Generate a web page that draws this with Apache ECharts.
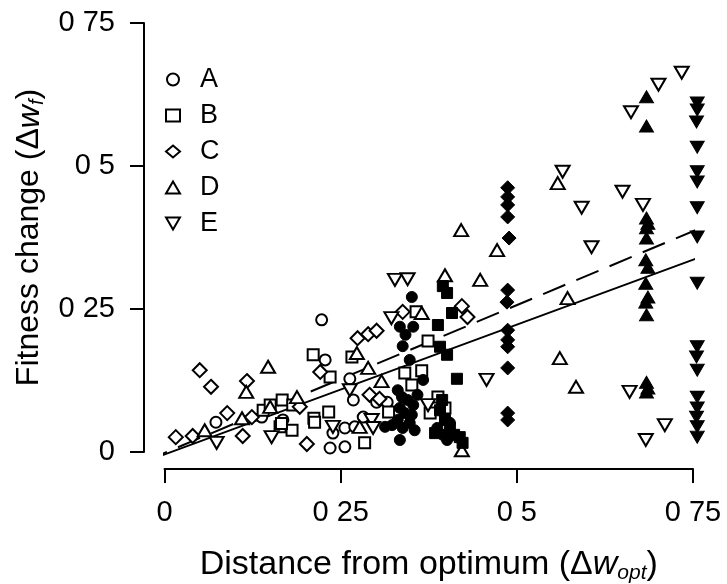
<!DOCTYPE html>
<html>
<head>
<meta charset="utf-8">
<script src="https://cdn.jsdelivr.net/npm/echarts@6/dist/echarts.min.js"></script>
<style>
html,body{margin:0;padding:0;background:#fff;}
#chart{width:727px;height:584px;}
</style>
</head>
<body>
<div id="chart"></div>
<script>
// ---- data (x = distance from optimum, y = fitness change) ----
const legendNames = ['A', 'B', 'C', 'D', 'E'];
const tickValues = [0, 0.25, 0.5, 0.75];

const openA = [[0.223,0.231],[0.228,0.161],[0.263,0.128],[0.268,0.091],[0.301,0.087],[0.316,0.087],[0.282,0.061],[0.239,0.033],[0.256,0.042],[0.270,0.044],[0.235,0.007],[0.256,0.009],[0.073,0.052],[0.138,0.061],[0.168,0.056]];
const openB = [[0.211,0.170],[0.235,0.131],[0.266,0.166],[0.167,0.091],[0.182,0.082],[0.164,0.044],[0.181,0.038],[0.212,0.059],[0.233,0.070],[0.213,0.052],[0.284,0.016],[0.357,0.245],[0.374,0.194],[0.341,0.138],[0.365,0.142],[0.351,0.117],[0.318,0.070],[0.388,0.096],[0.398,0.077],[0.377,0.068],[0.140,0.073],[0.150,0.082],[0.166,0.050]];
const openC = [[0.016,0.026],[0.040,0.028],[0.050,0.143],[0.066,0.114],[0.089,0.068],[0.111,0.028],[0.117,0.124],[0.192,0.079],[0.202,0.014],[0.221,0.140],[0.274,0.199],[0.289,0.206],[0.301,0.212],[0.291,0.100],[0.338,0.245],[0.422,0.255],[0.430,0.236],[0.124,0.061],[0.305,0.093]];
const openD = [[0.147,0.149],[0.116,0.105],[0.110,0.059],[0.150,0.079],[0.273,0.173],[0.289,0.147],[0.308,0.124],[0.365,0.243],[0.398,0.309],[0.448,0.301],[0.472,0.353],[0.421,0.388],[0.277,0.044],[0.422,0.003],[0.188,0.096],[0.057,0.038],[0.558,0.470],[0.572,0.269],[0.561,0.164],[0.584,0.114]];
const openE = [[0.327,0.301],[0.345,0.302],[0.322,0.234],[0.263,0.108],[0.294,0.056],[0.296,0.042],[0.239,0.044],[0.374,0.082],[0.152,0.026],[0.074,0.016],[0.457,0.126],[0.734,0.663],[0.701,0.642],[0.662,0.594],[0.565,0.490],[0.650,0.455],[0.592,0.427],[0.679,0.432],[0.606,0.358],[0.660,0.105],[0.710,0.047],[0.683,0.021]];

const filledA = [[0.351,0.271],[0.334,0.219],[0.353,0.219],[0.342,0.205],[0.338,0.185],[0.348,0.161],[0.367,0.126],[0.331,0.108],[0.337,0.096],[0.345,0.091],[0.353,0.082],[0.334,0.077],[0.341,0.068],[0.351,0.065],[0.331,0.056],[0.348,0.051],[0.338,0.042],[0.355,0.038],[0.313,0.044],[0.334,0.021],[0.387,0.042],[0.395,0.030],[0.401,0.021],[0.405,0.051],[0.359,0.100],[0.323,0.047]];
const filledB = [[0.395,0.290],[0.401,0.278],[0.408,0.243],[0.388,0.222],[0.391,0.184],[0.401,0.170],[0.415,0.128],[0.391,0.073],[0.398,0.056],[0.405,0.042],[0.411,0.030],[0.419,0.026],[0.423,0.016],[0.384,0.033],[0.394,0.091]];
const filledC = [[0.487,0.462],[0.487,0.446],[0.487,0.432],[0.487,0.411],[0.489,0.374],[0.487,0.283],[0.486,0.262],[0.487,0.213],[0.487,0.196],[0.487,0.184],[0.487,0.147],[0.487,0.068],[0.487,0.056]];
const filledD = [[0.684,0.621],[0.684,0.570],[0.684,0.409],[0.686,0.400],[0.684,0.392],[0.684,0.374],[0.683,0.336],[0.686,0.323],[0.683,0.295],[0.686,0.271],[0.683,0.262],[0.684,0.240],[0.684,0.122],[0.686,0.112],[0.684,0.105]];
const filledE = [[0.756,0.610],[0.756,0.598],[0.755,0.577],[0.756,0.533],[0.756,0.490],[0.756,0.472],[0.756,0.427],[0.756,0.376],[0.756,0.295],[0.756,0.184],[0.755,0.166],[0.756,0.143],[0.756,0.096],[0.756,0.077],[0.755,0.061],[0.756,0.044],[0.756,0.026]];

const solidFit = [[-0.029,-0.0175],[0.783,0.351]];
const dashedFit = [[-0.028,-0.016],[0.781,0.402]];

// ---- chart ----
const FONT = '"Liberation Sans", Arial, sans-serif';
const invTri = 'path://M0,0L20,0L10,17.3Z';
const shapes = ['circle', 'rect', 'diamond', 'triangle', invTri];
const sizes = [11, 11, 14, [14, 12], [14, 12]];
const openSets = [openA, openB, openC, openD, openE];
const filledSets = [filledA, filledB, filledC, filledD, filledE];

const series = [];
legendNames.forEach((n, i) => {
  series.push({
    name: n, type: 'scatter', data: openSets[i], symbol: shapes[i], symbolSize: sizes[i],
    clip: false,
    itemStyle: { color: '#fff', borderColor: '#000', borderWidth: 2, opacity: 1 },
    emphasis: { disabled: true }
  });
});
legendNames.forEach((n, i) => {
  series.push({
    name: n + ' filled', type: 'scatter', data: filledSets[i], symbol: shapes[i], symbolSize: sizes[i],
    clip: false,
    itemStyle: { color: '#000', borderColor: '#000', borderWidth: 1, opacity: 1 },
    emphasis: { disabled: true }
  });
});
series.push({
  type: 'line', data: solidFit, showSymbol: false, symbol: 'none', clip: false,
  lineStyle: { color: '#000', width: 2 }, z: 1
});
series.push({
  type: 'line', data: dashedFit, showSymbol: false, symbol: 'none', clip: false,
  lineStyle: { color: '#000', width: 2, type: [24, 12] }, z: 1
});

const tickFmt = v => String(v).replace('.', ' ');

const chart = echarts.init(document.getElementById('chart'), null, { renderer: 'canvas' });
chart.setOption({
  animation: false,
  backgroundColor: '#fff',
  textStyle: { fontFamily: FONT },
  grid: { left: 164.5, right: 34, top: 23, bottom: 132, containLabel: false, outerBoundsMode: 'none' },
  legend: {
    data: legendNames, orient: 'vertical', left: 160, top: 61,
    itemWidth: 14, itemHeight: 12, itemGap: 9,
    textStyle: { fontSize: 27, color: '#000', fontFamily: FONT, lineHeight: 26, padding: [0, 0, 0, 15] },
    selectedMode: false
  },
  xAxis: {
    type: 'value', min: 0, max: 0.75, interval: 0.25, offset: 17,
    axisLine: { show: true, onZero: false, lineStyle: { color: '#000', width: 2 } },
    axisTick: { show: true, length: 14, lineStyle: { color: '#000', width: 2 } },
    axisLabel: { formatter: tickFmt, fontSize: 29, color: '#000', margin: 29, fontFamily: FONT },
    splitLine: { show: false },
    name: '{n|Distance from optimum (Δ}{i|w}{s|opt}{n|)}',
    nameLocation: 'middle', nameGap: 77,
    nameTextStyle: {
      color: '#000',
      rich: {
        n: { fontSize: 34, fontFamily: FONT, color: '#000', lineHeight: 38 },
        i: { fontSize: 34, fontFamily: FONT, fontStyle: 'italic', color: '#000', lineHeight: 38 },
        s: { fontSize: 21, fontFamily: FONT, fontStyle: 'italic', color: '#000', verticalAlign: 'bottom', lineHeight: 38, padding: [10, 0, 0, 0] }
      }
    }
  },
  yAxis: {
    type: 'value', min: 0, max: 0.75, interval: 0.25, offset: 20.5,
    axisLine: { show: true, onZero: false, lineStyle: { color: '#000', width: 2 } },
    axisTick: { show: true, length: 14, lineStyle: { color: '#000', width: 2 } },
    axisLabel: { formatter: tickFmt, fontSize: 29, color: '#000', margin: 29, fontFamily: FONT },
    splitLine: { show: false },
    name: '{n|Fitness change (Δ}{i|w}{s|f}{n|)}',
    nameLocation: 'middle', nameGap: 80, nameRotate: 90,
    nameTextStyle: {
      color: '#000',
      rich: {
        n: { fontSize: 32, fontFamily: FONT, color: '#000', lineHeight: 36 },
        i: { fontSize: 32, fontFamily: FONT, fontStyle: 'italic', color: '#000', lineHeight: 36 },
        s: { fontSize: 20, fontFamily: FONT, fontStyle: 'italic', color: '#000', verticalAlign: 'bottom', lineHeight: 36, padding: [10, 0, 0, 0] }
      }
    }
  },
  series: series
});
</script>
</body>
</html>
